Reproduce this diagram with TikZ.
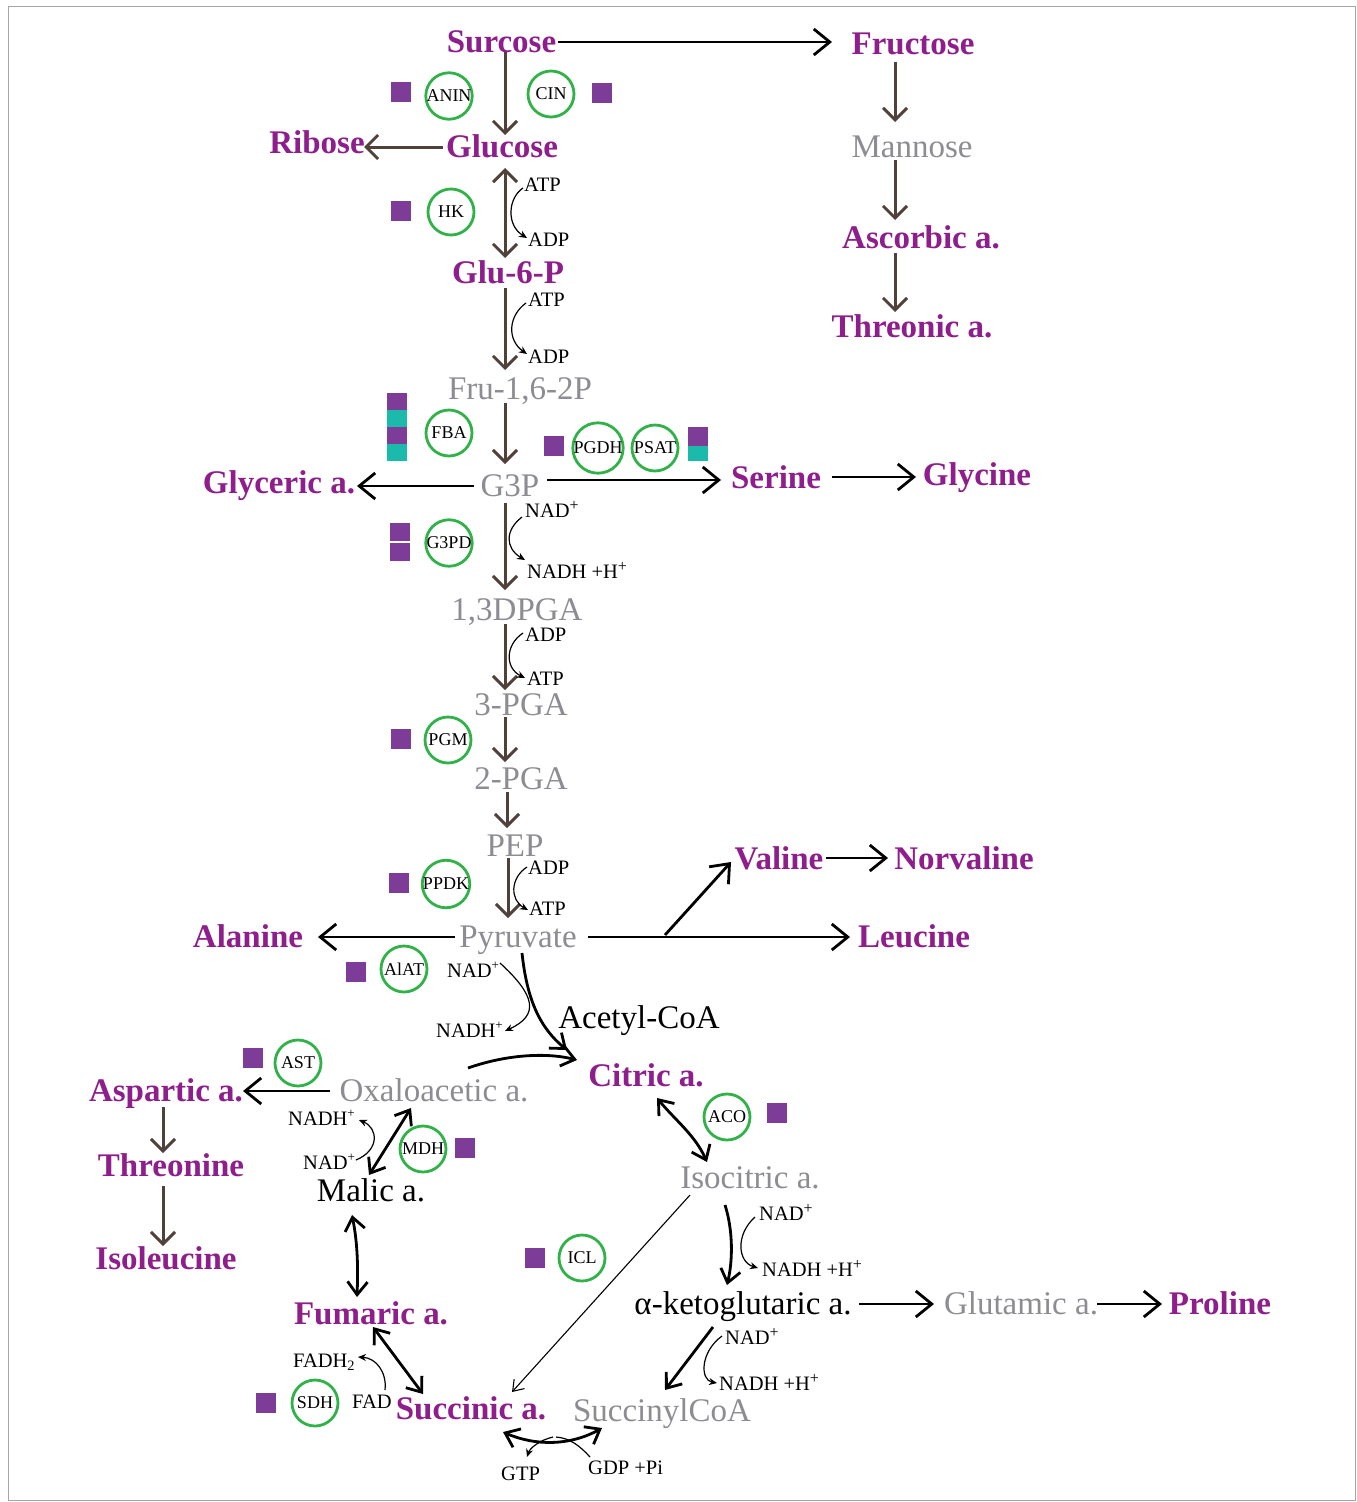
\documentclass[tikz,border=0pt]{standalone}
\usepackage{fontspec}
\setmainfont{Liberation Serif}
\usetikzlibrary{arrows.meta}
\definecolor{cpur}{RGB}{142,30,140}
\definecolor{cgray}{RGB}{140,140,146}
\definecolor{csq}{RGB}{125,60,152}
\definecolor{cteal}{RGB}{28,186,170}
\definecolor{cgreen}{RGB}{48,178,72}
\definecolor{cbrown}{RGB}{80,66,58}
\newcommand\bigfnt{\fontsize{33}{33}\selectfont}
\newcommand\smfnt{\fontsize{20.5}{20.5}\selectfont}
\newcommand\enzfnt{\fontsize{18}{18}\selectfont}
\newcommand\splus{\raisebox{7pt}{\fontsize{16}{16}\selectfont +}}
\newcommand\ssplus{\raisebox{8pt}{\fontsize{13}{13}\selectfont +}}
\begin{document}
\begin{tikzpicture}[x=1pt,y=-1pt,
  lab/.style={inner sep=0pt, font=\bigfnt, text height=22pt, text depth=0pt},
  pl/.style={lab, text=cpur, font=\bigfnt\bfseries},
  gl/.style={lab, text=cgray},
  kl/.style={lab, text=black},
  sm/.style={inner sep=0pt, anchor=west, font=\smfnt, text height=13.5pt, text depth=0pt},
  enz/.style={circle, draw=cgreen, line width=2.8pt, minimum size=46pt, inner sep=0pt, font=\enzfnt},
  sq/.style={fill=csq, minimum width=20pt, minimum height=20pt, inner sep=0pt},
  cell/.style={minimum width=20pt, minimum height=17pt, inner sep=0pt},
  brarr/.style={draw=cbrown, line width=3pt, -{Straight Barb[length=12pt,width=24pt]}},
  brdarr/.style={draw=cbrown, line width=3pt, {Straight Barb[length=12pt,width=24pt]}-{Straight Barb[length=12pt,width=24pt]}},
  bkarr/.style={draw=black, line width=2.8pt, -{Straight Barb[length=16pt,width=26pt]}},
  tca/.style={draw=black, line width=2.8pt, -{Straight Barb[length=13pt,width=20pt]}},
  tcad/.style={draw=black, line width=2.8pt, {Straight Barb[length=13pt,width=20pt]}-{Straight Barb[length=13pt,width=20pt]}},
  thinarr/.style={draw=black, line width=1.1pt, -{Straight Barb[length=10pt,width=14pt]}},
  cof/.style={draw=black, line width=1.2pt, -{Stealth[length=8pt,width=7pt]}},
  cofl/.style={draw=black, line width=1.2pt},
]
\useasboundingbox (0,0) rectangle (1357,1502);
\draw[draw=gray!70, line width=1pt] (8,6) rectangle (1355,1500);

% ---------- metabolite labels ----------
\node[pl] (Sur) at (501.5,41) {Surcose};
\node[pl] (Fruc) at (913,43) {Fructose};
\node[pl] (Glc) at (502,146) {Glucose};
\node[pl] (Rib) at (317,142) {Ribose};
\node[gl] (Man) at (912,146) {Mannose};
\node[pl] (Asc) at (921,237) {Ascorbic a.};
\node[pl] (Thr) at (912,326) {Threonic a.};
\node[pl] (G6P) at (508,272) {Glu-6-P};
\node[gl] (Fru) at (520,388) {Fru-1,6-2P};
\node[gl] (G3P) at (510,485) {G3P};
\node[pl] (Glyc) at (279,482) {Glyceric a.};
\node[pl] (Ser) at (776,477) {Serine};
\node[pl] (Gly) at (977,474) {Glycine};
\node[gl] (DPGA) at (517,609) {1,3DPGA};
\node[gl] (PGAa) at (521,704) {3-PGA};
\node[gl] (PGAb) at (521,778) {2-PGA};
\node[gl] (PEP) at (515,845) {PEP};
\node[gl] (Pyr) at (518,936) {Pyruvate};
\node[pl] (Ala) at (248,936) {Alanine};
\node[pl] (Leu) at (914,936) {Leucine};
\node[pl] (Val) at (779,858) {Valine};
\node[pl] (Nor) at (964,858) {Norvaline};
\node[kl] (Acet) at (639,1017) {Acetyl-CoA};
\node[pl] (Cit) at (646,1075) {Citric a.};
\node[gl] (Oxa) at (434,1090) {Oxaloacetic a.};
\node[pl] (Asp) at (166,1090) {Aspartic a.};
\node[pl] (Thre) at (171,1165) {Threonine};
\node[pl] (Ile) at (166,1258) {Isoleucine};
\node[kl] (Mal) at (371,1190) {Malic a.};
\node[gl] (Isoc) at (750,1177) {Isocitric a.};
\node[kl] (Akg) at (743,1303) {α-ketoglutaric a.};
\node[gl] (Glut) at (1021,1303) {Glutamic a.};
\node[pl] (Pro) at (1220,1303) {Proline};
\node[pl] (Fum) at (371,1313) {Fumaric a.};
\node[pl] (Suc) at (471,1408) {Succinic a.};
\node[gl] (Scoa) at (662,1410) {SuccinylCoA};

% ---------- cofactor labels ----------
\node[sm] (atpA) at (524,185) {ATP};
\node[sm] (adpA) at (528,240) {ADP};
\node[sm] (atpB) at (528,300) {ATP};
\node[sm] (adpB) at (528,357) {ADP};
\node[sm] (nadA) at (525,511) {NAD\splus};
\node[sm] (nadhA) at (527,572) {NADH +H\splus};
\node[sm] (adpC) at (525,635) {ADP};
\node[sm] (atpC) at (527,679) {ATP};
\node[sm] (adpD) at (528,868) {ADP};
\node[sm] (atpD) at (529,909) {ATP};
\node[sm] (nadB) at (447,971) {NAD\ssplus};
\node[sm] (nadhB) at (436,1031) {NADH\ssplus};
\node[sm] (nadhC) at (288,1119) {NADH\ssplus};
\node[sm] (nadC) at (303,1163) {NAD\ssplus};
\node[sm] (fadh) at (293,1361) {FADH\textsubscript{2}};
\node[sm] (fad) at (352,1402) {FAD};
\node[sm] (gtp) at (501,1474) {GTP};
\node[sm] (gdp) at (588,1468) {GDP +Pi};
\node[sm] (nadD) at (759,1214) {NAD\splus};
\node[sm] (nadhD) at (762,1270) {NADH +H\splus};
\node[sm] (nadE) at (725,1338) {NAD\splus};
\node[sm] (nadhE) at (719,1384) {NADH +H\splus};

% ---------- enzymes ----------
\node[enz] (anin) at (449,96) {ANIN};
\node[enz] (cin) at (551,94) {CIN};
\node[enz] (hk) at (451,212) {HK};
\node[enz] (fba) at (449,433) {FBA};
\node[enz] (pgdh) at (598,448) {PGDH};
\node[enz] (psat) at (655,448) {PSAT};
\node[enz] (g3pd) at (449,543) {G3PD};
\node[enz] (pgm) at (448,740) {PGM};
\node[enz] (ppdk) at (446,884) {PPDK};
\node[enz] (alat) at (404,969) {AlAT};
\node[enz] (ast) at (298,1063) {AST};
\node[enz] (mdh) at (423,1149) {MDH};
\node[enz] (aco) at (727,1117) {ACO};
\node[enz] (icl) at (582,1258) {ICL};
\node[enz] (sdh) at (315,1403) {SDH};

% ---------- squares ----------
\node[sq] (s1) at (401,92) {};
\node[sq] (s2) at (602,93) {};
\node[sq] (s3) at (401,211) {};
\node[cell, fill=csq] (f1) at (397,401.5) {};
\node[cell, fill=cteal] (f2) at (397,418.5) {};
\node[cell, fill=csq] (f3) at (397,435.5) {};
\node[cell, fill=cteal] (f4) at (397,452.5) {};
\node[sq] (s4) at (554,446) {};
\node[cell, fill=csq, minimum height=19pt] (p1) at (698,436.5) {};
\node[cell, fill=cteal, minimum height=15pt] (p2) at (698,453.5) {};
\node[cell, fill=csq, minimum height=18pt] (g1) at (400,532) {};
\node[cell, fill=csq, minimum height=18pt] (g2) at (400,552) {};
\node[sq] (s5) at (401,739) {};
\node[sq] (s6) at (399,883) {};
\node[sq] (s7) at (356,972) {};
\node[sq] (s8) at (253,1058) {};
\node[sq] (s9) at (465,1148) {};
\node[sq] (s10) at (777,1113) {};
\node[sq] (s11) at (535,1258) {};
\node[sq] (s12) at (266,1403) {};

% ---------- brown vertical arrows ----------
\draw[brarr] ([shift={(3.5,11)}]Sur.center) -- ([shift={(3,-11)}]Glc.center);
\draw[brdarr] ([shift={(3,22)}]Glc.center) -- ([shift={(-3,-14)}]G6P.center);
\draw[brarr] ([shift={(-3,16)}]G6P.center) -- ([shift={(-15,-18)}]Fru.center);
\draw[brarr] ([shift={(-15,15)}]Fru.center) -- ([shift={(-5,-21)}]G3P.center);
\draw[brarr] ([shift={(-5,18)}]G3P.center) -- ([shift={(-12,-19)}]DPGA.center);
\draw[brarr] ([shift={(-12,15)}]DPGA.center) -- ([shift={(-16,-14)}]PGAa.center);
\draw[brarr] ([shift={(-16,13)}]PGAa.center) -- ([shift={(-16,-16)}]PGAb.center);
\draw[brarr] ([shift={(-14,14)}]PGAb.center) -- ([shift={(-8,-17)}]PEP.center);
\draw[brarr] ([shift={(-7,13)}]PEP.center) -- ([shift={(-10,-18)}]Pyr.center);
\draw[brarr] ([shift={(-18,19)}]Fruc.center) -- ([shift={(-17,-24)}]Man.center);
\draw[brarr] ([shift={(-17,14)}]Man.center) -- ([shift={(-26,-17)}]Asc.center);
\draw[brarr] ([shift={(-26,16)}]Asc.center) -- ([shift={(-17,-14)}]Thr.center);
\draw[brarr] ([shift={(-3,17)}]Asp.center) -- ([shift={(-8,-12)}]Thre.center);
\draw[brarr] ([shift={(-8,21)}]Thre.center) -- ([shift={(-3,-12)}]Ile.center);
\draw[brarr] ([shift={(-59,1)}]Glc.center) -- ([shift={(47,5)}]Rib.center);

% ---------- black straight arrows ----------
\draw[bkarr] ([shift={(56.5,1)}]Sur.center) -- ([shift={(-81,-1)}]Fruc.center);
\draw[bkarr] ([shift={(-36,1)}]G3P.center) -- ([shift={(78,4)}]Glyc.center);
\draw[bkarr] ([shift={(37,-5)}]G3P.center) -- ([shift={(-55,3)}]Ser.center);
\draw[bkarr] ([shift={(56,0)}]Ser.center) -- ([shift={(-61,3)}]Gly.center);
\draw[bkarr] ([shift={(-63,1)}]Pyr.center) -- ([shift={(70,1)}]Ala.center);
\draw[bkarr] ([shift={(70,1)}]Pyr.center) -- ([shift={(-64,1)}]Leu.center);
\draw[bkarr] ([shift={(147,-1)}]Pyr.center) -- ([shift={(-48,4)}]Val.center);
\draw[bkarr] ([shift={(47,0)}]Val.center) -- ([shift={(-76,0)}]Nor.center);
\draw[bkarr] ([shift={(-104,1)}]Oxa.center) -- ([shift={(77,1)}]Asp.center);
\draw[bkarr] ([shift={(116,1)}]Akg.center) -- ([shift={(-87,1)}]Glut.center);
\draw[bkarr] ([shift={(76,1)}]Glut.center) -- ([shift={(-58,1)}]Pro.center);

% ---------- TCA arrows ----------
\draw[tca] ([shift={(4,17)}]Pyr.center) .. controls (527,1000) and (540,1028) .. ([shift={(-79,-25)}]Cit.center);
\draw[tca] ([shift={(34,-22)}]Oxa.center) .. controls (505,1055) and (545,1052) .. ([shift={(-69,-15)}]Cit.center);
\draw[tcad] ([shift={(-2,-15)}]Mal.center) -- ([shift={(-23,18)}]Oxa.center);
\draw[tcad] ([shift={(-19,25)}]Mal.center) .. controls (358,1245) and (358,1270) .. ([shift={(-14,-16)}]Fum.center);
\draw[tcad] ([shift={(2,14)}]Fum.center) -- ([shift={(-48,-14)}]Suc.center);
\draw[tcad] ([shift={(11,23)}]Cit.center) .. controls (675,1120) and (695,1135) .. ([shift={(-43,-15)}]Isoc.center);
\draw[tca] ([shift={(-25,28)}]Isoc.center) .. controls (733,1230) and (733,1260) .. ([shift={(-16,-18)}]Akg.center);
\draw[tca] ([shift={(-30,24)}]Akg.center) -- ([shift={(3,-20)}]Scoa.center);
\draw[thinarr] ([shift={(-60,18)}]Isoc.center) -- ([shift={(41,-16)}]Suc.center);
\draw[tcad] ([shift={(-60,18)}]Scoa.center) .. controls (570,1446) and (535,1446) .. ([shift={(32,24)}]Suc.center);

% ---------- cofactor curves ----------
\draw[cof] ([shift={(-1,3)}]atpA.west) .. controls (508,198) and (506,225) .. ([shift={(-1,-2)}]adpA.west);
\draw[cof] ([shift={(-2,3)}]atpB.west) .. controls (508,316) and (507,340) .. ([shift={(-1,-3)}]adpB.west);
\draw[cof] ([shift={(-3,6)}]nadA.west) .. controls (505,530) and (505,548) .. ([shift={(-2,-12)}]nadhA.west);
\draw[cof] ([shift={(-2,-2)}]adpC.west) .. controls (505,645) and (505,668) .. ([shift={(-2,-1)}]atpC.west);
\draw[cof] ([shift={(-1,-1)}]adpD.west) .. controls (510,878) and (510,900) .. ([shift={(-1,1)}]atpD.west);
\draw[cof] ([shift={(53,-8)}]nadB.west) .. controls (535,995) and (540,1015) .. ([shift={(69,0)}]nadhB.west);
\draw[cof] ([shift={(53,-3)}]nadC.west) .. controls (380,1150) and (378,1128) .. ([shift={(71,1)}]nadhC.west);
\draw[cof] ([shift={(33,-12)}]fad.west) .. controls (387,1372) and (376,1358) .. ([shift={(65,-4)}]fadh.west);
\draw[cof] ([shift={(-4,3)}]nadD.west) .. controls (735,1235) and (738,1262) .. ([shift={(-4,-2)}]nadhD.west);
\draw[cof] ([shift={(-3,-2)}]nadE.west) .. controls (700,1352) and (700,1380) .. ([shift={(-2,-1)}]nadhE.west);
\draw[cof] (553,1437) .. controls (540,1440) and (530,1448) .. ([shift={(26,-17)}]gtp.west);
\draw[cofl] ([shift={(2,-11)}]gdp.west) .. controls (580,1446) and (570,1438) .. (556,1437);
\end{tikzpicture}
\end{document}
